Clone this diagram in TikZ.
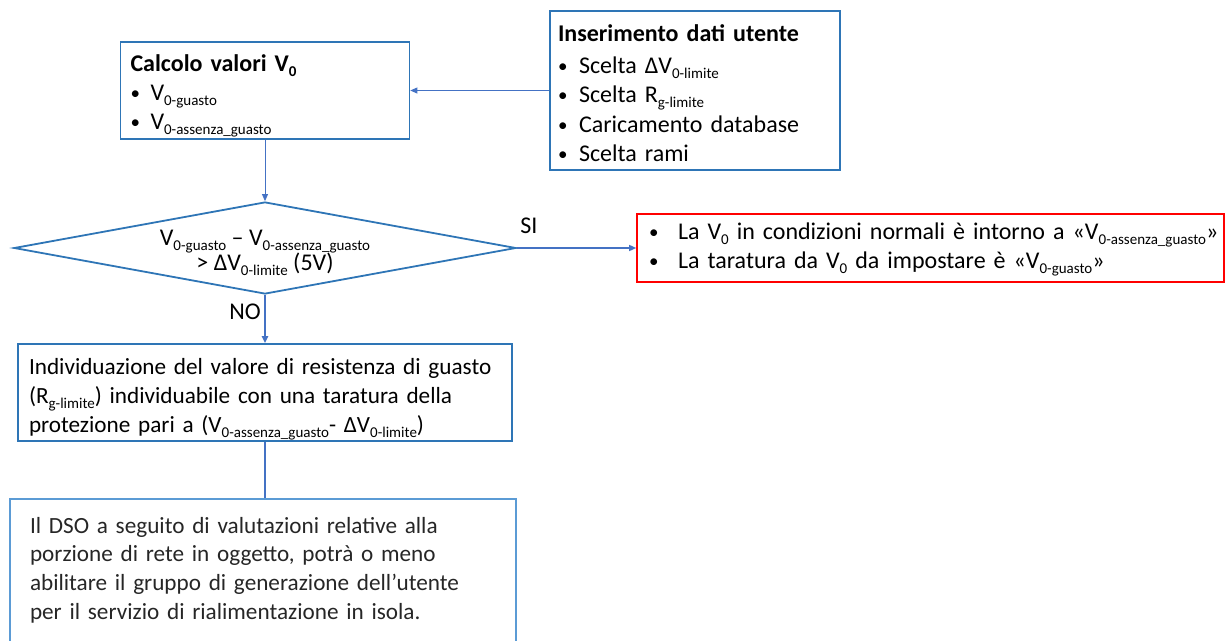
\documentclass[tikz,border=0pt]{standalone}
\usepackage{fontspec}
\setmainfont{Carlito}
\usetikzlibrary{shapes.geometric,arrows.meta}
\definecolor{boxblue}{HTML}{2E75B6}
\definecolor{lightblue}{HTML}{5B9BD5}
\definecolor{linkblue}{HTML}{4472C4}
\newcommand{\sub}[1]{\raisebox{-0.22em}{\fontsize{15}{15}\selectfont #1}}
\newcommand{\itm}[2][20pt]{\makebox[#1][l]{\raisebox{1pt}{\fontsize{19}{19}\selectfont •}}#2}

\begin{document}
\begin{tikzpicture}[x=1pt, y=-1pt, >={Triangle[length=7pt,width=6pt]}, font=\fontsize{24}{29}\selectfont]
    \tikzstyle{box}=[rectangle, draw=boxblue, line width=1.6pt, align=left, inner ysep=0pt]
    \tikzstyle{decision}=[diamond, draw=boxblue, line width=1.8pt, inner sep=0pt, minimum width=502pt, minimum height=92pt, font=\fontsize{24}{23}\selectfont]
    \tikzstyle{link}=[->, draw=linkblue, line width=0.8pt]
    \tikzstyle{thick link}=[link, line width=1.8pt]

    \useasboundingbox (0,0) rectangle (1226,640);

    % Draw the input and calculation boxes
    \node[box, minimum width=289pt, text width=269pt, inner xsep=10pt, text height=29pt, text depth=68pt] (calc) at (265,90.5)
        {\textbf{Calcolo valori V\sub{0}}\\
         \itm{V\sub{0-guasto}}\\
         \itm{V\sub{0-assenza\_guasto}}};
    \node[box, minimum width=290pt, text width=274pt, inner xsep=8pt, text height=30pt, text depth=129pt,
          font=\fontsize{24}{29.6}\selectfont] (ins) at (695,90.5)
        {\textbf{Inserimento dati utente}\\[2.5pt]
         \itm[21pt]{Scelta ΔV\sub{0-limite}}\\
         \itm[21pt]{Scelta R\sub{g-limite}}\\
         \itm[21pt]{Caricamento database}\\
         \itm[21pt]{Scelta rami}};

    % Draw the decision and its two outcomes
    \node[decision, text height=20pt, text depth=26pt] (dec) at (265,248)
        {\makebox[0pt]{\begin{tabular}[t]{@{}c@{}}V\sub{0-guasto} – V\sub{0-assenza\_guasto}\\ > ΔV\sub{0-limite} (5V)\end{tabular}}};
    \node[box, draw=red, minimum width=587pt, text width=563pt, inner xsep=12pt, text height=25pt, text depth=43pt] (res) at (930.5,248)
        {\mbox{\itm[29pt]{La V\sub{0} in condizioni normali è intorno a «V\sub{0-assenza\_guasto}»}}\\
         \mbox{\itm[29pt]{La taratura da V\sub{0} da impostare è «V\sub{0-guasto}»}}};
    \node[box, minimum width=494pt, text width=472pt, inner xsep=11pt, text height=30pt, text depth=67pt,
          font=\fontsize{23.2}{29}\selectfont] (ind) at (265,392.5)
        {\mbox{Individuazione del valore di resistenza di guasto}\\
         \mbox{(R\sub{g-limite}) individuabile con una taratura della}\\
         \mbox{protezione pari a (V\sub{0-assenza\_guasto}- ΔV\sub{0-limite})}};
    \node[box, draw=lightblue, line width=2.4pt, anchor=north, text width=466pt, inner xsep=20pt,
          text height=34pt, text depth=170pt, text=black!85, font=\fontsize{23.2}{28.7}\selectfont] (dso) at (263,498)
        {\mbox{Il DSO a seguito di valutazioni relative alla}\\
         \mbox{porzione di rete in oggetto, potrà o meno}\\
         \mbox{abilitare il gruppo di generazione dell’utente}\\
         \mbox{per il servizio di rialimentazione in isola.}};

    % Connect the boxes
    \draw[link] (ins.west) -- (calc.east);
    \draw[link] (calc.south) -- (dec.north);
    \draw[link, line width=1.4pt] (dec.east) -- node[pos=0.1, anchor=base, yshift=15pt, text=black] {SI} (res.west);
    \draw[thick link] (dec.south) -- node[pos=0.36, left, text=black] {NO} (ind.north);
    \draw[thick link, -] (ind.south) -- (ind.south |- dso.north);

\end{tikzpicture}
\end{document}
